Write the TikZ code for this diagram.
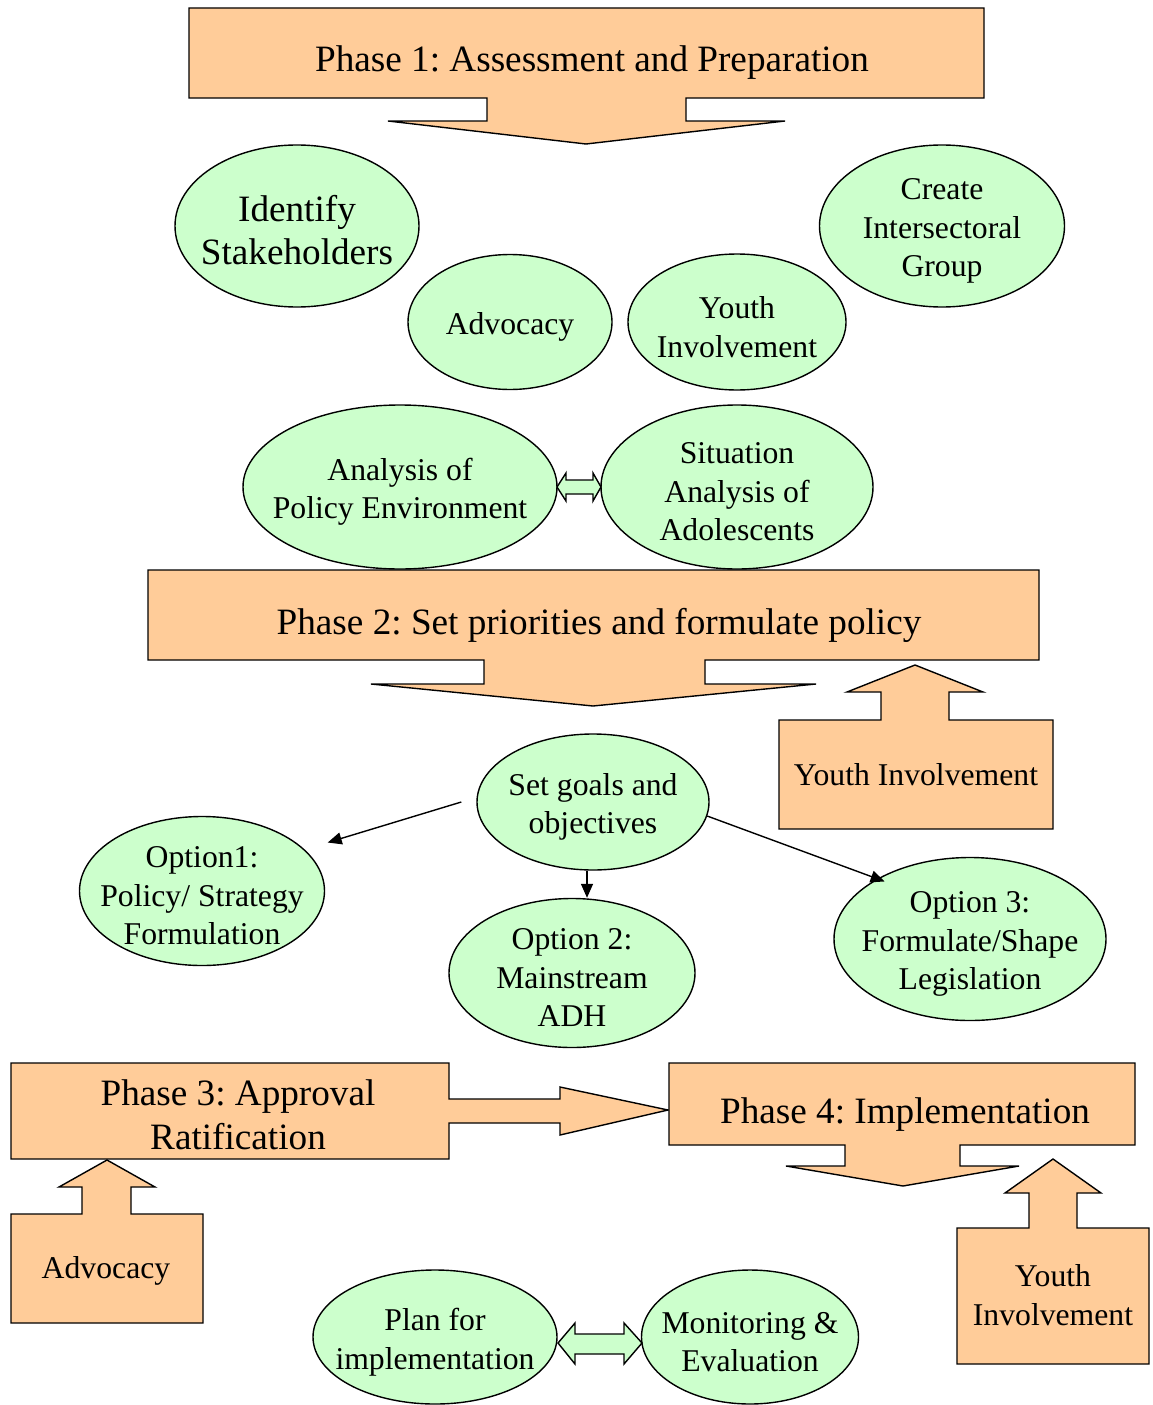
\documentclass[tikz,border=0pt]{standalone}
\usepackage{fontspec}
\setmainfont{Liberation Serif}
\usetikzlibrary{shapes.geometric,arrows.meta}
\definecolor{peach}{HTML}{FFCC99}
\definecolor{mint}{HTML}{CCFFCC}
\frenchspacing
\begin{document}
\begin{tikzpicture}[x=1pt,y=-1pt,
  callout/.style={draw=black,line width=1.4pt,line join=miter,fill=peach},
  dbl/.style={draw=black,line width=1.4pt,line join=miter,fill=mint},
  smallfont/.style={font=\fontsize{31.7}{38.5}\selectfont,align=center},
  bigfont/.style={font=\fontsize{37.2}{43.5}\selectfont,align=center},
  oval/.style={ellipse,draw=black,line width=1.4pt,fill=mint,inner sep=0pt},
  otext/.style={label={[smallfont,yshift=-5pt]center:#1}},
  obig/.style={label={[bigfont,yshift=-4pt]center:#1}},
  conn/.style={line width=1.4pt,-{Triangle[length=14pt,width=12pt]}}
]
\fill[white] (0,0) rectangle (1152,1405);
\useasboundingbox (0,0) rectangle (1152,1405);

% Phase 1
\draw[callout] (189,8) -- (984,8) -- (984,98) -- (686,98) -- (686,121) -- (785,121) -- (586,144) -- (388,121) -- (487,121) -- (487,98) -- (189,98) -- cycle;
\node[bigfont] (p1) at (592,63) {Phase 1: Assessment and Preparation};

% Phase 1 ellipses
\node[oval,minimum width=244pt,minimum height=162pt,obig={Identify\\Stakeholders}] (ids) at (297,226) {};
\node[oval,minimum width=204pt,minimum height=135pt,otext={Advocacy}] (adv1) at (510,322) {};
\node[oval,minimum width=218pt,minimum height=136pt,otext={Youth\\Involvement}] (yi1) at (737,322) {};
\node[oval,minimum width=245pt,minimum height=162pt,otext={Create\\Intersectoral\\Group}] (cig) at (942,226) {};
\node[oval,minimum width=314pt,minimum height=164pt,otext={Analysis of\\Policy Environment}] (ape) at (400,487) {};
\node[oval,minimum width=272pt,minimum height=164pt,otext={Situation\\Analysis of\\Adolescents}] (saa) at (737,487) {};
\draw[dbl] (557,487) -- (566,473) -- (566,480) -- (593,480) -- (593,473) -- (601,487) -- (593,501) -- (593,494) -- (566,494) -- (566,501) -- cycle;

% Phase 2
\draw[callout] (148,570) -- (1039,570) -- (1039,660) -- (705,660) -- (705,684) -- (816,684) -- (593,706) -- (371,684) -- (484,684) -- (484,660) -- (148,660) -- cycle;
\node[bigfont] (p2) at (599,625) {Phase 2: Set priorities and formulate policy};

% Youth involvement (phase 2)
\draw[callout] (779,720) -- (881,720) -- (881,692) -- (847,692) -- (915,665) -- (983,692) -- (949,692) -- (949,720) -- (1053,720) -- (1053,829) -- (779,829) -- cycle;
\node[smallfont] (yib1) at (916,775) {Youth Involvement};

% Phase 2 ellipses
\node[oval,minimum width=232pt,minimum height=136pt,otext={Set goals and\\objectives}] (goals) at (593,802) {};
\node[oval,minimum width=245pt,minimum height=149pt,otext={Option1:\\Policy/ Strategy\\Formulation}] (opt1) at (202,891) {};
\node[oval,minimum width=246pt,minimum height=149pt,otext={Option 2:\\Mainstream\\ADH}] (opt2) at (572,973) {};
\node[oval,minimum width=272pt,minimum height=163pt,otext={Option 3:\\Formulate/Shape\\Legislation}] (opt3) at (970,939) {};

\draw[conn,shorten >=24pt] ([xshift=-15pt]goals.west) -- (opt1.22);
\draw[conn] ([xshift=-6pt]goals.south) -- ([xshift=-6pt]goals.south |- opt2.north);
\draw[conn,shorten >=-8pt] (goals.-7) -- (opt3.147);

% Phase 3
\draw[callout] (11,1063) -- (449,1063) -- (449,1099) -- (560,1099) -- (560,1087) -- (668,1110) -- (560,1135) -- (560,1123) -- (449,1123) -- (449,1159) -- (11,1159) -- cycle;
\node[bigfont,font=\fontsize{37.2}{44}\selectfont] (p3) at (238,1115) {Phase 3: Approval\\Ratification};

% Advocacy (phase 3)
\draw[callout] (11,1214) -- (82,1214) -- (82,1187) -- (59,1187) -- (107,1160) -- (155,1187) -- (131,1187) -- (131,1214) -- (203,1214) -- (203,1323) -- (11,1323) -- cycle;
\node[smallfont] (advb) at (106,1271) {Advocacy};

% Phase 4
\draw[callout] (669,1063) -- (1135,1063) -- (1135,1145) -- (960,1145) -- (960,1166) -- (1019,1166) -- (903,1186) -- (786,1166) -- (845,1166) -- (845,1145) -- (669,1145) -- cycle;
\node[bigfont] (p4) at (905,1115) {Phase 4: Implementation};

% Youth involvement (phase 4)
\draw[callout] (957,1228) -- (1029,1228) -- (1029,1193) -- (1005,1193) -- (1053,1159) -- (1101,1193) -- (1077,1193) -- (1077,1228) -- (1149,1228) -- (1149,1364) -- (957,1364) -- cycle;
\node[smallfont] (yib2) at (1053,1295) {Youth\\Involvement};

% Phase 4 ellipses
\node[oval,minimum width=244pt,minimum height=134pt,otext={Plan for\\implementation}] (plan) at (435,1337) {};
\node[oval,minimum width=217pt,minimum height=134pt,otext={Monitoring \&\\Evaluation}] (me) at (750,1337) {};
\draw[dbl] (558,1343) -- (575,1323) -- (575,1334) -- (624,1334) -- (624,1323) -- (642,1343) -- (624,1364) -- (624,1354) -- (575,1354) -- (575,1364) -- cycle;
\end{tikzpicture}
\end{document}
